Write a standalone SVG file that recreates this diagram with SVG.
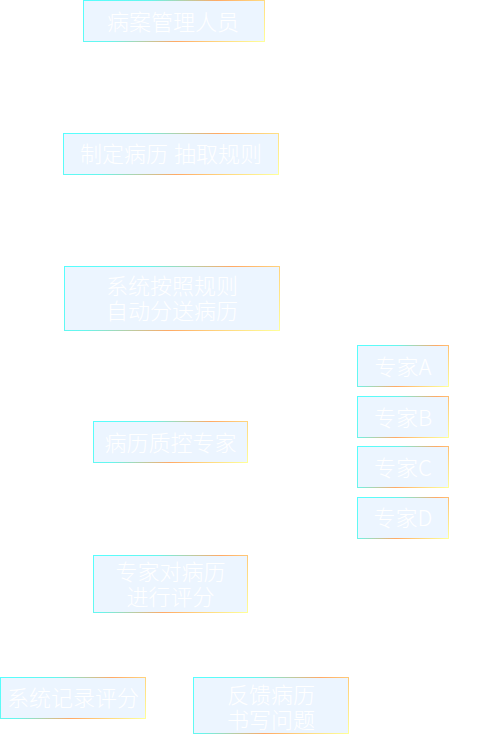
<svg xmlns="http://www.w3.org/2000/svg" xmlns:xlink="http://www.w3.org/1999/xlink" width="477" height="735" viewBox="0 0 477 735">
<style>
.box{fill:#ecf5ff;stroke-width:1}
.t{font-family:"Liberation Sans","Noto Sans CJK SC",sans-serif;font-size:22px;font-weight:300;fill:#ffffff;text-anchor:middle}
.e{font-family:"Noto Sans CJK SC","Noto Sans",sans-serif}
</style>
<defs>
<linearGradient id="base">
<stop offset="0" stop-color="#55ffff"/>
<stop offset="0.3" stop-color="#66f6ee"/>
<stop offset="0.6" stop-color="#ffaa66"/>
<stop offset="0.8" stop-color="#ffd880"/>
<stop offset="1" stop-color="#ffff99"/>
</linearGradient>
<linearGradient id="g1" href="#base" xlink:href="#base" gradientUnits="userSpaceOnUse" x1="118.5" y1="-34.5" x2="229.5" y2="76.5"/>
<linearGradient id="g2" href="#base" xlink:href="#base" gradientUnits="userSpaceOnUse" x1="107" y1="90" x2="235" y2="218"/>
<linearGradient id="g3" href="#base" xlink:href="#base" gradientUnits="userSpaceOnUse" x1="102.25" y1="228.75" x2="241.75" y2="368.25"/>
<linearGradient id="g4" href="#base" xlink:href="#base" gradientUnits="userSpaceOnUse" x1="370" y1="333" x2="436" y2="399"/>
<linearGradient id="g5" href="#base" xlink:href="#base" gradientUnits="userSpaceOnUse" x1="370" y1="384" x2="436" y2="450"/>
<linearGradient id="g6" href="#base" xlink:href="#base" gradientUnits="userSpaceOnUse" x1="370" y1="434" x2="436" y2="500"/>
<linearGradient id="g7" href="#base" xlink:href="#base" gradientUnits="userSpaceOnUse" x1="370" y1="485" x2="436" y2="551"/>
<linearGradient id="g8" href="#base" xlink:href="#base" gradientUnits="userSpaceOnUse" x1="121.75" y1="393.25" x2="219.25" y2="490.75"/>
<linearGradient id="g9" href="#base" xlink:href="#base" gradientUnits="userSpaceOnUse" x1="117.75" y1="531.25" x2="223.25" y2="636.75"/>
<linearGradient id="g10" href="#base" xlink:href="#base" gradientUnits="userSpaceOnUse" x1="26.5" y1="651.5" x2="119.5" y2="744.5"/>
<linearGradient id="g11" href="#base" xlink:href="#base" gradientUnits="userSpaceOnUse" x1="218.25" y1="652.75" x2="323.75" y2="758.25"/>
</defs>
<g id="connectors"></g>
<g id="n-manager"><rect class="box" x="83.5" y="0.5" width="181" height="41" stroke="url(#g1)"/><text class="t" x="173" y="30">病案管理人员</text></g>
<g id="n-rules"><rect class="box" x="63.5" y="133.5" width="215" height="41" stroke="url(#g2)"/><text class="t" x="171" y="162">制定病历 抽取规则</text></g>
<g id="n-dispatch"><rect class="box" x="64.5" y="266.5" width="215" height="64" stroke="url(#g3)"/><text class="t" x="172" y="294">系统按照规则<tspan x="172" dy="25">自动分送病历</tspan></text></g>
<g id="n-expertA"><rect class="box" x="357.5" y="345.5" width="91" height="41" stroke="url(#g4)"/><text class="t e" x="403" y="375">专家A</text></g>
<g id="n-expertB"><rect class="box" x="357.5" y="396.5" width="91" height="41" stroke="url(#g5)"/><text class="t e" x="403" y="425.5">专家B</text></g>
<g id="n-expertC"><rect class="box" x="357.5" y="446.5" width="91" height="41" stroke="url(#g6)"/><text class="t e" x="403" y="475.5">专家C</text></g>
<g id="n-expertD"><rect class="box" x="357.5" y="497.5" width="91" height="41" stroke="url(#g7)"/><text class="t e" x="403" y="526">专家D</text></g>
<g id="n-qc"><rect class="box" x="93.5" y="421.5" width="154" height="41" stroke="url(#g8)"/><text class="t" x="170.5" y="450.5">病历质控专家</text></g>
<g id="n-score"><rect class="box" x="93.5" y="555.5" width="154" height="57" stroke="url(#g9)"/><text class="t" x="170.5" y="579.5">专家对病历<tspan x="170.5" dy="25">进行评分</tspan></text></g>
<g id="n-record"><rect class="box" x="0.5" y="677.5" width="145" height="41" stroke="url(#g10)"/><text class="t" x="73" y="705.5">系统记录评分</text></g>
<g id="n-feedback"><rect class="box" x="193.5" y="677.5" width="155" height="56" stroke="url(#g11)"/><text class="t" x="271" y="703">反馈病历<tspan x="271" dy="25">书写问题</tspan></text></g>
</svg>
